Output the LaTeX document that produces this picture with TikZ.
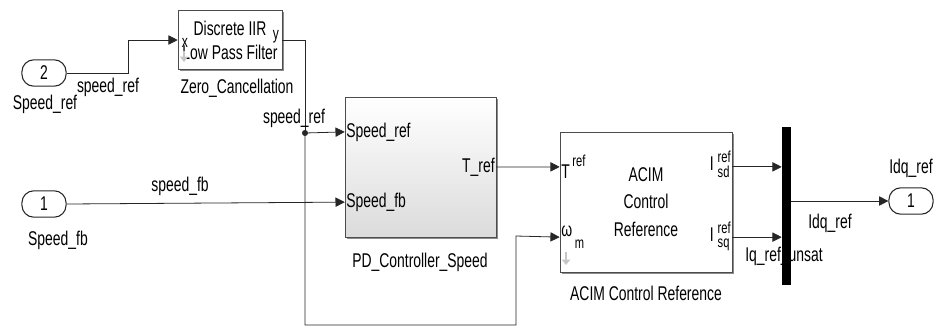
\documentclass[tikz,border=0pt]{standalone}
\usepackage{fontspec}
\setmainfont{Liberation Sans}[FakeStretch=0.7]
\usetikzlibrary{arrows.meta, calc, shadows}
\newcommand{\portsub}[2]{#1\hspace{3pt}{\fontsize{12}{12}\selectfont
  \begin{tabular}{@{}l@{}}ref\\[-1pt]#2\end{tabular}}}

\begin{document}
\begin{tikzpicture}[x=0.0265cm, y=-0.0265cm,
      font=\fontsize{15}{17}\selectfont,
      port/.style={rectangle, rounded corners=9pt, draw=black!85, thick,
                   minimum width=1.17cm, minimum height=0.7cm},
      blk/.style={rectangle, draw=black!70, fill=white,
                  drop shadow={shadow xshift=1.3pt, shadow yshift=-1.3pt,
                               fill=black!45, opacity=1}},
      sig/.style={-{Triangle[length=7pt,width=7pt]}, black!85, semithick},
      wire/.style={black!85, semithick},
      lbl/.style={inner sep=1pt},
      lib/.style={gray!45, line width=2pt, -{Triangle[length=4pt,width=6pt]}}
    ]
    \useasboundingbox (0,0) rectangle (937,327);

    % Inports
    \node[port] (in2) at (44,73) {2};
    \node[lbl] at (45,104) {Speed\_ref};
    \node[port] (in1) at (44,204) {1};
    \node[lbl] at (58,240) {Speed\_fb};

    % Zero cancellation filter
    \node[blk, minimum width=2.7cm, minimum height=1.57cm, align=center,
          font=\fontsize{15}{18}\selectfont]
          (zc) at (230,40) {Discrete IIR\\Low Pass Filter};
    \node[lbl, font=\fontsize{13}{13}\selectfont] at (185,43) {x};
    \node[lbl, font=\fontsize{13}{13}\selectfont] at (276,37) {y};
    \draw[lib] (184,51) -- (184,62);
    \node[lbl] at (237,88) {Zero\_Cancellation};

    % PD speed controller (subsystem)
    \node[blk, top color=white, bottom color=black!14,
          minimum width=4cm, minimum height=3.71cm] (pd) at (420.5,167) {};
    \coordinate (pdin1) at ($(pd.north west)!0.25!(pd.south west)$);
    \coordinate (pdin2) at ($(pd.north west)!0.75!(pd.south west)$);
    \node[lbl, anchor=west] at (pdin1) {Speed\_ref};
    \node[lbl, anchor=west] at (pdin2) {Speed\_fb};
    \node[lbl, anchor=east] at (pd.east) {T\_ref};
    \node[lbl] at (420,262) {PD\_Controller\_Speed};

    % ACIM control reference
    \node[blk, minimum width=4.56cm, minimum height=3.71cm, align=center,
          font=\fontsize{15}{21}\selectfont]
          (acim) at (646,202) {ACIM\\Control\\Reference};
    \coordinate (acimin1) at ($(acim.north west)!0.25!(acim.south west)$);
    \coordinate (acimin2) at ($(acim.north west)!0.75!(acim.south west)$);
    \coordinate (acimout1) at ($(acim.north east)!0.25!(acim.south east)$);
    \coordinate (acimout2) at ($(acim.north east)!0.75!(acim.south east)$);
    \node[lbl, anchor=west] at (acimin1)
          {T\raisebox{1.1ex}{\fontsize{12}{12}\selectfont\,ref}};
    \node[lbl, anchor=west] at (acimin2)
          {ω\raisebox{-1.1ex}{\fontsize{12}{12}\selectfont\,m}};
    \node[lbl, anchor=east] at (acimout1) {\portsub{I}{sd}};
    \node[lbl, anchor=east] at (acimout2) {\portsub{I}{sq}};
    \draw[lib] (566,252) -- (566,265);
    \node[lbl] at (646,293) {ACIM Control Reference};

    % Mux and outport
    \node[lbl] at (784,256) {Iq\_ref\_unsat};
    \node[fill=black, inner sep=0pt, minimum width=0.24cm,
          minimum height=4.19cm] (mux) at (786.5,206) {};
    \node[port] (out1) at (911,201) {1};
    \node[lbl] at (911,168) {Idq\_ref};

    % Signal lines
    \draw[sig] (in2.east) -- (128,73) |- (zc.west);
    \node[lbl] at (108,87) {speed\_ref};
    \coordinate (j) at (305,133);
    \draw[wire] (zc.east) -| (j);
    \fill[black!85] (j) circle (2.3pt);
    \node[lbl] at (294,118) {speed\_ref};
    \draw[sig] (j) -- (pdin1);
    \draw[sig] (j) -- (305,325) -| (516,236) -- (acimin2);
    \draw[sig] (in1.east) -- (pdin2);
    \node[lbl] at (180,186) {speed\_fb};
    \draw[sig] (pd.east) -- (acimin1);
    \draw[sig] (acimout1) -- (mux.west |- acimout1);
    \draw[sig] (acimout2) -- (mux.west |- acimout2);
    \draw[sig] (mux.east |- out1) -- (out1.west);
    \node[lbl] at (830,223) {Idq\_ref};
  \end{tikzpicture}
\end{document}
